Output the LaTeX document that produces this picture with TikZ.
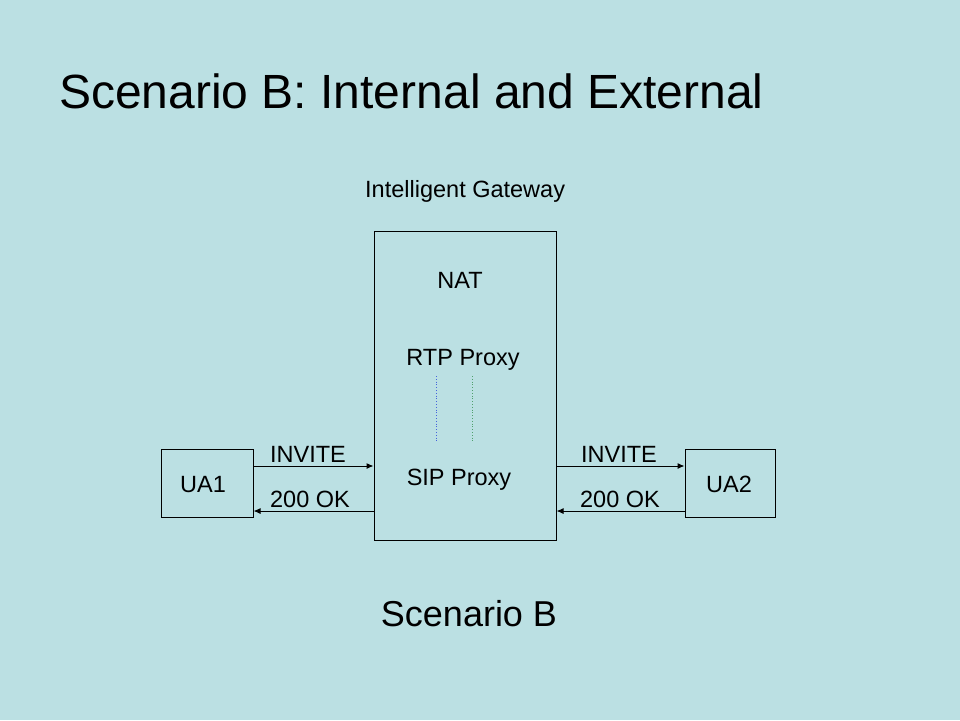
\documentclass[tikz,border=0pt]{standalone}
\usepackage{fontspec}
\setmainfont{Liberation Sans}
\usetikzlibrary{arrows.meta}
\definecolor{bg}{HTML}{BBE0E3}
\definecolor{dotblue}{RGB}{70,100,220}
\definecolor{dotgreen}{RGB}{80,160,110}
\tikzset{
  lbl/.style={inner sep=0pt,font=\fontsize{23.5}{28}\selectfont},
  boxed/.style={draw=black,line width=1pt,inner sep=0pt},
  msg/.style={line width=1pt,-{Latex[length=7pt,width=6pt]}},
}
\begin{document}
\begin{tikzpicture}[x=1pt,y=-1pt]
\fill[bg] (0,0) rectangle (960,720);
\useasboundingbox (0,0) rectangle (960,720);
% title
\node[inner sep=0pt,anchor=base west,font=\fontsize{48}{58}\selectfont] (title) at (59,108) {Scenario B: Internal and External};
\node[lbl,anchor=base west] (igw) at (365,197) {Intelligent Gateway};
% boxes
\node[boxed,minimum width=182pt,minimum height=309pt] (gw) at (465,385.5) {};
\node[boxed,minimum width=92pt,minimum height=68pt] (ua1) at (207,483) {};
\node[boxed,minimum width=90pt,minimum height=68pt] (ua2) at (730,483) {};
% texts
\node[lbl,anchor=base] (nat) at (460,288) {NAT};
\node[lbl,anchor=base] (rtp) at (463,365) {RTP Proxy};
\node[lbl,anchor=base] (sip) at (459,485) {SIP Proxy};
\node[lbl,anchor=base] (ua1t) at (203,492) {UA1};
\node[lbl,anchor=base] (ua2t) at (729,492) {UA2};
\node[lbl,anchor=base] (inv1) at (308,462) {INVITE};
\node[lbl,anchor=base] (ok1) at (310,507) {200 OK};
\node[lbl,anchor=base] (inv2) at (619,462) {INVITE};
\node[lbl,anchor=base] (ok2) at (620,507) {200 OK};
\node[inner sep=0pt,anchor=base,font=\fontsize{36}{42}\selectfont] (scb) at (469,626) {Scenario B};
% dotted RTP lines
\coordinate (b1) at (436,376); \coordinate (b2) at (436,443);
\coordinate (g1) at (472,376); \coordinate (g2) at (472,443);
\draw[dotblue,line width=0.8pt,dotted] (b1) -- (b2);
\draw[dotgreen,line width=0.8pt,dotted] (g1) -- (g2);
% messages
\draw[msg] (ua1.east |- 0,466) -- (gw.west |- 0,466);
\draw[msg] (gw.west |- 0,511) -- (ua1.east |- 0,511);
\draw[msg] (gw.east |- 0,466) -- (ua2.west |- 0,466);
\draw[msg] (ua2.west |- 0,511) -- (gw.east |- 0,511);
\end{tikzpicture}
\end{document}
